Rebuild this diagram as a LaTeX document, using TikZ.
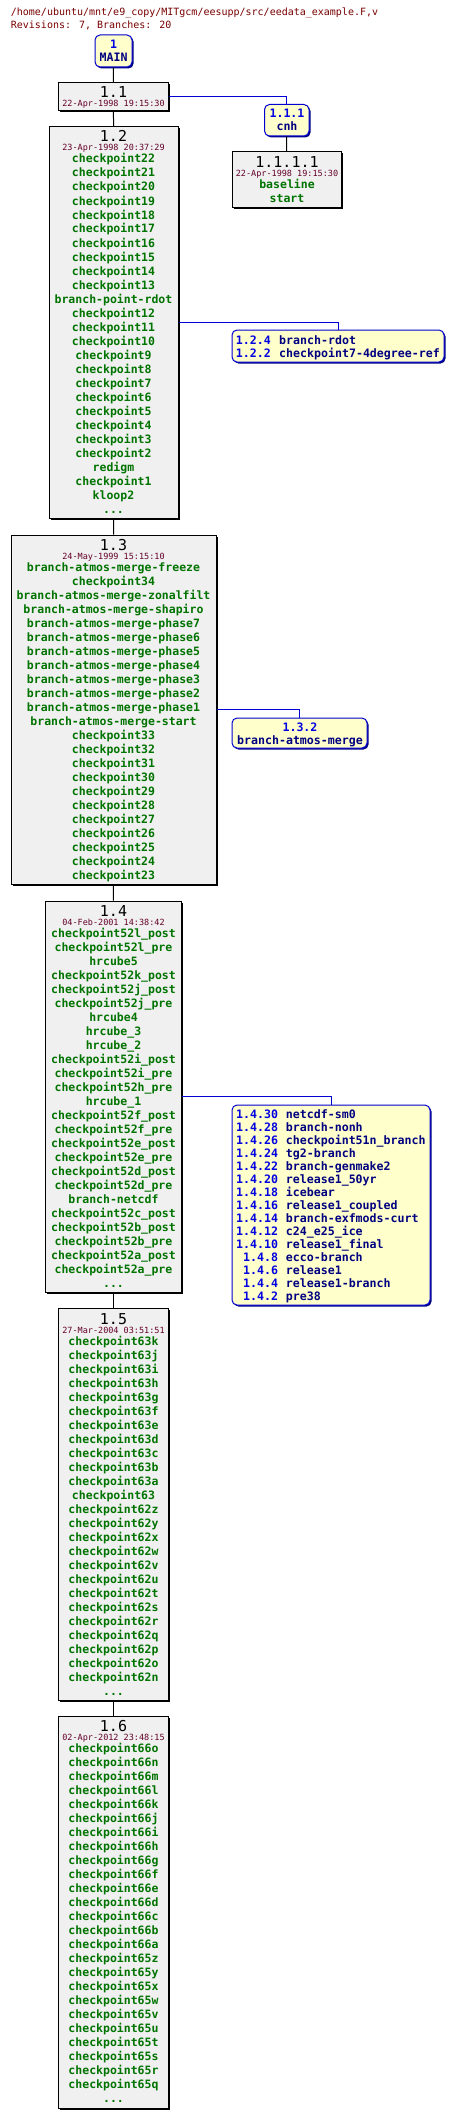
\documentclass[tikz,border=0pt]{standalone}
\usepackage{fontspec}
\usetikzlibrary{shadows}
\newfontfamily\dvm{DejaVu Sans Mono}
\definecolor{itemgreen}{RGB}{0,115,0}
\definecolor{numblue}{RGB}{0,0,225}
\definecolor{namenavy}{RGB}{0,0,128}
\definecolor{datecol}{RGB}{100,0,40}
\definecolor{headcol}{RGB}{120,0,0}
\definecolor{yfill}{RGB}{255,255,204}
\definecolor{gfill}{RGB}{240,240,240}
\definecolor{brline}{RGB}{0,0,210}
\newcommand\itemfont{\dvm\bfseries\fontsize{11.5}{14}\selectfont}
\newcommand\brfont{\dvm\bfseries\fontsize{11.6}{13}\selectfont}
\newcommand\titlefont{\dvm\fontsize{15}{16}\selectfont}
\newcommand\datefont{\dvm\fontsize{8.5}{9}\selectfont}
\newcommand\headfont{\dvm\fontsize{10}{12}\selectfont}
\newcommand\moredots{...}
\tikzset{
  revbox/.style={draw=black, line width=1pt, fill=gfill, inner sep=0,
    drop shadow={shadow xshift=1.5pt, shadow yshift=-1.5pt, opacity=1, fill=black}},
  tagbox/.style={draw=brline, line width=1pt, fill=yfill, inner sep=0, rounded corners=5pt,
    drop shadow={shadow xshift=1.5pt, shadow yshift=-1.5pt, opacity=1, fill=namenavy}},
  item/.style={font=\itemfont, text=itemgreen, anchor=base, inner sep=0},
  revtitle/.style={font=\titlefont, text=black, anchor=base, inner sep=0},
  revdate/.style={font=\datefont, text=datecol, anchor=base, inner sep=0},
  headtext/.style={font=\headfont, text=headcol, anchor=base west, inner sep=0},
  tagnum/.style={font=\brfont, text=numblue, anchor=base, inner sep=0},
  tagname/.style={font=\brfont, text=namenavy, anchor=base, inner sep=0},
  brnum/.style={font=\brfont, text=numblue, anchor=base east, inner sep=0},
  brname/.style={font=\brfont, text=namenavy, anchor=base west, inner sep=0},
  trunk/.style={draw=black, line width=1pt},
  branchline/.style={draw=brline, line width=1pt},
}
\newcommand\placebox[6]{\node[#2, minimum width={#5-#3}, minimum height={#6-#4}] (#1) at ({(#3+#5)/2},{(#4+#6)/2}) {};}
% name, top y, revision, date
\newcommand\revhead[4]{%
  \node[revtitle] (#1-t) at (113.5,#2+15.5) {#3};
  \node[revdate] (#1-d) at (113.5,#2+24.5) {#4};}
\newcommand\revitems[4]{%
  \foreach \itm [count=\i from 0] in {#4} {\node[item] (#1-\i) at (#2,#3+14*\i) {\itm};}}
\begin{document}
\begin{tikzpicture}[x=1pt,y=-1pt]
\useasboundingbox (0,0) rectangle (454,2119);
% header
\node[headtext] (h1) at (10.7,16) {/home/ubuntu/mnt/e9\_copy/MITgcm/eesupp/src/eedata\_example.F,v};
\node[headtext] (h2) at (10.7,28.5) {Revisions: 7, Branches: 20};
% boxes
\placebox{main}{tagbox}{95}{35}{132}{67}
\placebox{b11}{revbox}{58.5}{82.5}{168}{110.5}
\placebox{m111}{tagbox}{264.5}{104.5}{309}{136}
\placebox{b1111}{revbox}{232}{152}{341}{207.5}
\placebox{b12}{revbox}{49.5}{126.5}{178}{518}
\placebox{t12}{tagbox}{232}{330}{444}{362}
\placebox{b13}{revbox}{11}{535}{216}{884.5}
\placebox{t13}{tagbox}{232}{718}{367}{748}
\placebox{b14}{revbox}{45.5}{901}{181}{1292.5}
\placebox{t14}{tagbox}{232}{1105}{430}{1305}
\placebox{b15}{revbox}{58.5}{1308.5}{168}{1700.5}
\placebox{b16}{revbox}{58.5}{1716}{168}{2108.5}
% connectors
\draw[trunk] (main.south) -- (b11.north);
\draw[trunk] (b11.south) -- (b12.north);
\draw[trunk] (b12.south) -- (b13.north);
\draw[trunk] (b13.south) -- (b14.north);
\draw[trunk] (b14.south) -- (b15.north);
\draw[trunk] (b15.south) -- (b16.north);
\draw[trunk] (m111.south) -- (b1111.north);
\draw[branchline] (b11.east) -| (m111.north);
\draw[branchline] (b12.east) -| (t12.north);
\draw[branchline] (b13.east) -| (t13.north);
\draw[branchline] (b14.east) -| (t14.north);
% MAIN
\node[tagnum] (main-n) at (113.7,49) {1};
\node[tagname] (main-l) at (113.7,62) {MAIN};
% 1.1.1
\node[tagnum] (m111-n) at (287,118) {1.1.1};
\node[tagname] (m111-l) at (287,131) {cnh};
% 1.1
\revhead{b11}{82.5}{1.1}{22-Apr-1998 19:15:30}
% 1.1.1.1
\node[revtitle] (b1111-t) at (287,167.5) {1.1.1.1};
\node[revdate] (b1111-d) at (287,176.5) {22-Apr-1998 19:15:30};
\revitems{b1111}{287}{188.5}{baseline,start}
% 1.2
\revhead{b12}{126.5}{1.2}{23-Apr-1998 20:37:29}
\revitems{b12}{113.5}{163}{checkpoint22,checkpoint21,checkpoint20,checkpoint19,checkpoint18,checkpoint17,checkpoint16,checkpoint15,checkpoint14,checkpoint13,branch-point-rdot,checkpoint12,checkpoint11,checkpoint10,checkpoint9,checkpoint8,checkpoint7,checkpoint6,checkpoint5,checkpoint4,checkpoint3,checkpoint2,redigm,checkpoint1,kloop2,\moredots}
\node[brnum] (t12-n1) at (271,344) {1.2.4};
\node[brname] (t12-l1) at (279,344) {branch-rdot};
\node[brnum] (t12-n2) at (271,357.5) {1.2.2};
\node[brname] (t12-l2) at (279,357.5) {checkpoint7-4degree-ref};
% 1.3
\revhead{b13}{535}{1.3}{24-May-1999 15:15:10}
\revitems{b13}{113.5}{571.5}{branch-atmos-merge-freeze,checkpoint34,branch-atmos-merge-zonalfilt,branch-atmos-merge-shapiro,branch-atmos-merge-phase7,branch-atmos-merge-phase6,branch-atmos-merge-phase5,branch-atmos-merge-phase4,branch-atmos-merge-phase3,branch-atmos-merge-phase2,branch-atmos-merge-phase1,branch-atmos-merge-start,checkpoint33,checkpoint32,checkpoint31,checkpoint30,checkpoint29,checkpoint28,checkpoint27,checkpoint26,checkpoint25,checkpoint24,checkpoint23}
\node[tagnum] (t13-n) at (300,731) {1.3.2};
\node[tagname] (t13-l) at (300,744) {branch-atmos-merge};
% 1.4
\revhead{b14}{901}{1.4}{04-Feb-2001 14:38:42}
\revitems{b14}{113.5}{937.5}{checkpoint52l\_post,checkpoint52l\_pre,hrcube5,checkpoint52k\_post,checkpoint52j\_post,checkpoint52j\_pre,hrcube4,hrcube\_3,hrcube\_2,checkpoint52i\_post,checkpoint52i\_pre,checkpoint52h\_pre,hrcube\_1,checkpoint52f\_post,checkpoint52f\_pre,checkpoint52e\_post,checkpoint52e\_pre,checkpoint52d\_post,checkpoint52d\_pre,branch-netcdf,checkpoint52c\_post,checkpoint52b\_post,checkpoint52b\_pre,checkpoint52a\_post,checkpoint52a\_pre,\moredots}
\foreach \nm/\lb [count=\i from 0] in {1.4.30/netcdf-sm0,1.4.28/branch-nonh,1.4.26/checkpoint51n\_branch,1.4.24/tg2-branch,1.4.22/branch-genmake2,1.4.20/release1\_50yr,1.4.18/icebear,1.4.16/release1\_coupled,1.4.14/branch-exfmods-curt,1.4.12/c24\_e25\_ice,1.4.10/release1\_final,1.4.8/ecco-branch,1.4.6/release1,1.4.4/release1-branch,1.4.2/pre38}{
  \node[brnum] (t14-n\i) at (278.3,1118.5+13*\i) {\nm};
  \node[brname] (t14-l\i) at (285.7,1118.5+13*\i) {\lb};
}
% 1.5
\revhead{b15}{1308.5}{1.5}{27-Mar-2004 03:51:51}
\revitems{b15}{113.5}{1345}{checkpoint63k,checkpoint63j,checkpoint63i,checkpoint63h,checkpoint63g,checkpoint63f,checkpoint63e,checkpoint63d,checkpoint63c,checkpoint63b,checkpoint63a,checkpoint63,checkpoint62z,checkpoint62y,checkpoint62x,checkpoint62w,checkpoint62v,checkpoint62u,checkpoint62t,checkpoint62s,checkpoint62r,checkpoint62q,checkpoint62p,checkpoint62o,checkpoint62n,\moredots}
% 1.6
\revhead{b16}{1716}{1.6}{02-Apr-2012 23:48:15}
\revitems{b16}{113.5}{1752.5}{checkpoint66o,checkpoint66n,checkpoint66m,checkpoint66l,checkpoint66k,checkpoint66j,checkpoint66i,checkpoint66h,checkpoint66g,checkpoint66f,checkpoint66e,checkpoint66d,checkpoint66c,checkpoint66b,checkpoint66a,checkpoint65z,checkpoint65y,checkpoint65x,checkpoint65w,checkpoint65v,checkpoint65u,checkpoint65t,checkpoint65s,checkpoint65r,checkpoint65q,\moredots}
\end{tikzpicture}
\end{document}
